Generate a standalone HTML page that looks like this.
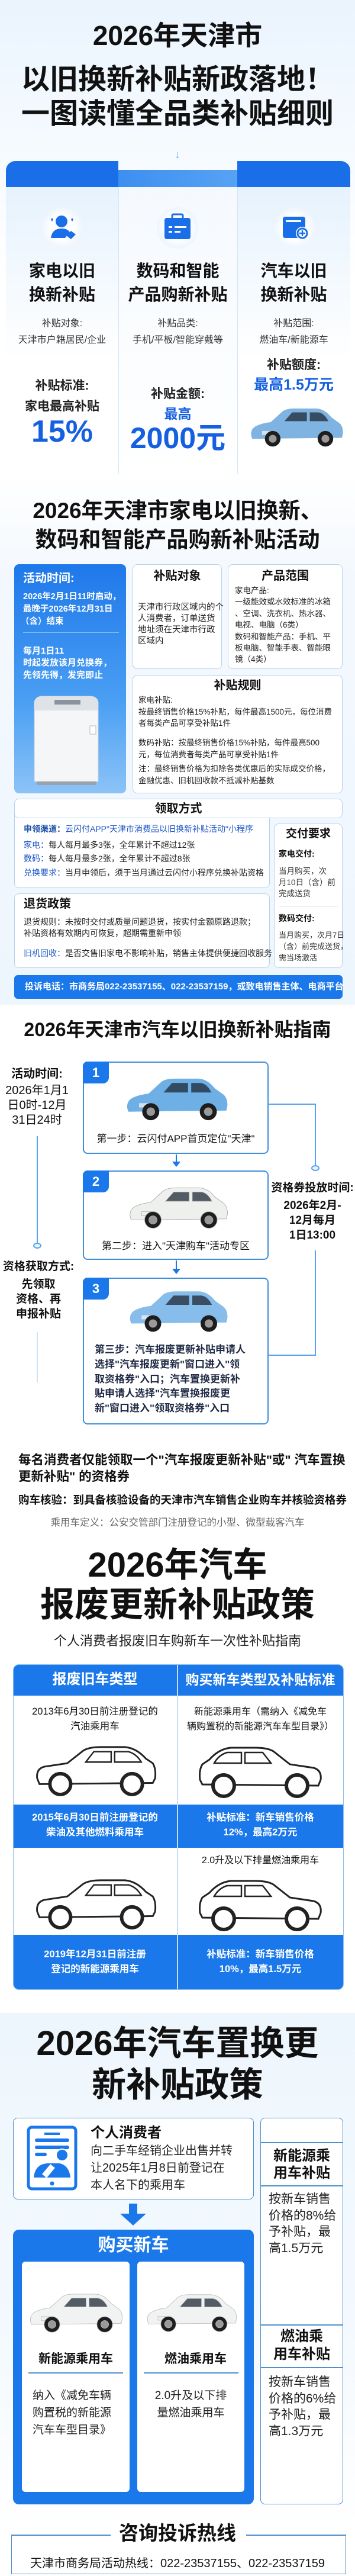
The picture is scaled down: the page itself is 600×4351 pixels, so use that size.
<!DOCTYPE html>
<html><head><meta charset="utf-8">
<style>
*{margin:0;padding:0;box-sizing:border-box}
body{width:600px;height:4351px;position:relative;overflow:hidden;background:#fff;font-family:"Liberation Sans","Noto Sans CJK SC",sans-serif;color:#111}
.a{position:absolute;white-space:nowrap}
.c{text-align:center}
.b{font-weight:bold}
.blue{color:#1560e0}
.box{position:absolute;border:1.5px solid #b9d3ec;border-radius:8px;background:#fff}
.bx2{position:absolute;border:2px solid #3f8fd8;border-radius:8px;background:#fff}
</style></head><body>
<svg width="0" height="0" style="position:absolute">
<defs>
<symbol id="car" viewBox="0 0 200 100">
<path d="M8 72 Q6 58 18 52 Q30 46 48 44 L72 22 Q80 16 96 16 L140 16 Q158 16 172 34 L186 44 Q196 50 196 66 L194 76 L10 78 Z"/>
<path d="M76 42 L92 24 L122 24 L122 42 Z M128 24 L146 24 Q158 26 166 42 L128 42 Z" fill="#1f2a36" opacity=".75"/>
<rect x="30" y="62" width="26" height="8" fill="#eee" opacity=".8"/>
<circle cx="52" cy="78" r="16" fill="#1d1d1d"/><circle cx="52" cy="78" r="8" fill="#999"/>
<circle cx="160" cy="78" r="16" fill="#1d1d1d"/><circle cx="160" cy="78" r="8" fill="#999"/>
</symbol>
<symbol id="ocar" viewBox="0 0 220 100">
<path d="M8 66 Q6 50 20 46 L60 40 L88 18 Q98 12 118 12 L160 12 Q180 14 196 32 L208 40 Q214 50 212 66 L208 74 L12 76 Z" fill="#fff" stroke="#222" stroke-width="3"/>
<path d="M92 38 L106 20 L136 20 L136 38 Z M142 20 L166 20 Q180 24 188 38 L142 38 Z" fill="#fff" stroke="#222" stroke-width="2.5"/>
<circle cx="48" cy="76" r="18" fill="#fff" stroke="#222" stroke-width="6"/>
<circle cx="172" cy="76" r="18" fill="#fff" stroke="#222" stroke-width="6"/>
</symbol>
</defs></svg>

<!-- SECTION 1 -->
<div class="a" style="left:0;top:0;width:600px;height:800px;background:linear-gradient(180deg,#eaf4fd 0%,#f5faff 30%,#fff 60%)"></div>
<div class="a c b" style="left:0;top:30px;width:600px;font-size:46px;line-height:60px">2026年天津市</div>
<div class="a c b" style="left:0;top:105px;width:600px;font-size:48px;line-height:60px">以旧换新补贴新政落地！</div>
<div class="a c b" style="left:0;top:163px;width:600px;font-size:48px;line-height:60px">一图读懂全品类补贴细则</div>
<div class="a c" style="left:290px;top:250px;width:20px;font-size:18px;color:#5aa2ee;line-height:22px">↓</div>

<div class="a" style="left:10px;top:316px;width:582px;height:484px;background:linear-gradient(180deg,#e6f2fd,#fff 60%)"></div>
<div class="a" style="left:200px;top:316px;width:201px;height:484px;background:linear-gradient(180deg,#f5f9fe,#fff)"></div>
<div class="a" style="left:200px;top:316px;width:1px;height:484px;background:#d3e5f7"></div>
<div class="a" style="left:401px;top:316px;width:1px;height:484px;background:#d3e5f7"></div>
<div class="a" style="left:10px;top:272px;width:190px;height:44px;background:#1a6fe8;border-radius:16px 0 0 0"></div>
<div class="a" style="left:200px;top:287px;width:201px;height:29px;background:linear-gradient(90deg,#3d8ff0,#56a2f4)"></div>
<div class="a" style="left:401px;top:272px;width:191px;height:44px;background:#1a6fe8;border-radius:0 16px 0 0"></div>

<!-- icons -->
<div class="a" style="left:70px;top:350px;width:70px;height:70px;border-radius:50%;background:radial-gradient(#fff 40%,#dcebfb)"></div>
<svg class="a" style="left:80px;top:358px" width="52" height="52" viewBox="0 0 52 52"><circle cx="24" cy="16" r="10" fill="#1a6fe8"/><path d="M6 44 Q8 28 24 28 Q34 28 38 34 L30 44 Z" fill="#1a6fe8"/><path d="M32 40 L40 32 L48 38 L40 46 Z" fill="#1a6fe8"/><path d="M6 13 l2 -3 l2 3 l-2 3z M40 13 l2 -3 l2 3 l-2 3z" fill="#1a6fe8"/></svg>
<div class="a" style="left:265px;top:350px;width:70px;height:70px;border-radius:50%;background:radial-gradient(#fff 40%,#dcebfb)"></div>
<svg class="a" style="left:275px;top:358px" width="50" height="50" viewBox="0 0 50 50"><rect x="3" y="10" width="44" height="36" rx="4" fill="#1a6fe8"/><rect x="16" y="4" width="18" height="8" rx="2" fill="none" stroke="#1a6fe8" stroke-width="3"/><rect x="10" y="24" width="6" height="3" fill="#fff"/><rect x="20" y="24" width="20" height="3" fill="#fff"/><rect x="10" y="32" width="6" height="3" fill="#fff"/><rect x="20" y="32" width="10" height="3" fill="#fff"/></svg>
<div class="a" style="left:463px;top:350px;width:70px;height:70px;border-radius:50%;background:radial-gradient(#fff 40%,#dcebfb)"></div>
<svg class="a" style="left:475px;top:358px" width="50" height="50" viewBox="0 0 50 50"><rect x="3" y="8" width="38" height="36" rx="4" fill="#1a6fe8"/><rect x="8" y="14" width="26" height="3" fill="#fff"/><circle cx="36" cy="36" r="11" fill="#fff"/><circle cx="36" cy="36" r="8" fill="none" stroke="#1a6fe8" stroke-width="3"/><path d="M36 31v10M31 36h10" stroke="#1a6fe8" stroke-width="2.5"/></svg>

<div class="a c b" style="left:10px;top:438px;width:190px;font-size:28px;line-height:40px">家电以旧</div>
<div class="a c b" style="left:10px;top:478px;width:190px;font-size:28px;line-height:40px">换新补贴</div>
<div class="a c b" style="left:200px;top:438px;width:201px;font-size:28px;line-height:40px">数码和智能</div>
<div class="a c b" style="left:200px;top:478px;width:201px;font-size:28px;line-height:40px">产品购新补贴</div>
<div class="a c b" style="left:401px;top:438px;width:191px;font-size:28px;line-height:40px">汽车以旧</div>
<div class="a c b" style="left:401px;top:478px;width:191px;font-size:28px;line-height:40px">换新补贴</div>

<div class="a c" style="left:10px;top:536px;width:190px;font-size:16px;line-height:22px;color:#333">补贴对象:</div>
<div class="a c" style="left:10px;top:564px;width:190px;font-size:16px;line-height:22px;color:#333">天津市户籍居民/企业</div>
<div class="a c" style="left:200px;top:536px;width:201px;font-size:16px;line-height:22px;color:#333">补贴品类:</div>
<div class="a c" style="left:200px;top:564px;width:201px;font-size:16px;line-height:22px;color:#333">手机/平板/智能穿戴等</div>
<div class="a c" style="left:401px;top:536px;width:191px;font-size:16px;line-height:22px;color:#333">补贴范围:</div>
<div class="a c" style="left:401px;top:564px;width:191px;font-size:16px;line-height:22px;color:#333">燃油车/新能源车</div>

<div class="a c b" style="left:10px;top:639px;width:190px;font-size:21px;line-height:26px;color:#222">补贴标准:</div>
<div class="a c b" style="left:10px;top:674px;width:190px;font-size:21px;line-height:26px;color:#222">家电最高补贴</div>
<div class="a c b blue" style="left:10px;top:700px;width:190px;font-size:52px;line-height:58px">15%</div>
<div class="a c b" style="left:200px;top:653px;width:201px;font-size:21px;line-height:26px;color:#222">补贴金额:</div>
<div class="a c b blue" style="left:200px;top:685px;width:201px;font-size:23px;line-height:28px">最高</div>
<div class="a c b blue" style="left:200px;top:712px;width:201px;font-size:50px;line-height:56px">2000元</div>
<div class="a c b" style="left:401px;top:604px;width:191px;font-size:21px;line-height:26px;color:#222">补贴额度:</div>
<div class="a c b blue" style="left:401px;top:635px;width:191px;font-size:25px;line-height:30px">最高1.5万元</div>
<svg class="a" style="left:418px;top:672px;color:#6fa9dc" width="165" height="92"><use href="#car" fill="#7fb3e2" width="165" height="92"/></svg>

<!-- SECTION 2 -->
<div class="a" style="left:0;top:800px;width:600px;height:897px;background:linear-gradient(180deg,#fff 0%,#f3f8fe 20%,#eef6fd 100%)"></div>
<div class="a c b" style="left:0;top:840px;width:600px;font-size:37px;line-height:46px">2026年天津市家电以旧换新、</div>
<div class="a c b" style="left:0;top:889px;width:600px;font-size:37px;line-height:46px">数码和智能产品购新补贴活动</div>

<div class="a" style="left:24px;top:953px;width:189px;height:387px;border-radius:8px;background:linear-gradient(180deg,#1f78ea,#4a9ff3 60%,#8cc3f7)"></div>
<div class="a b" style="left:39px;top:963px;font-size:20px;line-height:28px;color:#fff">活动时间:</div>
<div class="a b" style="left:39px;top:998px;font-size:14.5px;line-height:20px;color:#fff">2026年2月1日11时启动，</div>
<div class="a b" style="left:39px;top:1019px;font-size:14.5px;line-height:20px;color:#fff">最晚于2026年12月31日</div>
<div class="a b" style="left:35px;top:1040px;font-size:14.5px;line-height:20px;color:#fff">（含）结束</div>
<div class="a" style="left:39px;top:1068px;width:162px;height:1px;background:#8cc0f4"></div>
<div class="a b" style="left:39px;top:1090px;font-size:15px;line-height:20px;color:#fff">每月1日11</div>
<div class="a b" style="left:39px;top:1110px;font-size:15px;line-height:20px;color:#fff">时起发放该月兑换券，</div>
<div class="a b" style="left:39px;top:1131px;font-size:15px;line-height:20px;color:#fff">先领先得，发完即止</div>
<svg class="a" style="left:52px;top:1170px" width="120" height="160" viewBox="0 0 120 160"><path d="M6 16 Q8 6 20 6 L100 6 Q112 6 114 16 L114 150 L6 150 Z" fill="#f4f6f8" stroke="#c9ced4"/><path d="M6 16 Q8 6 20 6 L100 6 Q112 6 114 16 L114 30 L6 30 Z" fill="#dfe3e8"/><rect x="40" y="12" width="44" height="8" fill="#8a949e"/><rect x="100" y="56" width="10" height="14" fill="#fff" stroke="#bbb"/><rect x="10" y="150" width="100" height="6" fill="#9aa3ab"/></svg>

<div class="box" style="left:224px;top:953px;width:151px;height:177px"></div>
<div class="a c b" style="left:224px;top:959px;width:151px;font-size:20px;line-height:28px">补贴对象</div>
<div class="a" style="left:233px;top:1017px;font-size:14.5px;line-height:19px;color:#222">天津市行政区域内的个<br>人消费者，订单送货<br>地址须在天津市行政<br>区域内</div>

<div class="box" style="left:385px;top:953px;width:194px;height:177px"></div>
<div class="a c b" style="left:385px;top:959px;width:194px;font-size:20px;line-height:28px">产品范围</div>
<div class="a" style="left:397px;top:988px;font-size:13.5px;line-height:19.4px;color:#222">家电产品:<br>一级能效或水效标准的冰箱<br>、空调、洗衣机、热水器、<br>电视、电脑（6类）<br>数码和智能产品：手机、平<br>板电脑、智能手表、智能眼<br>镜（4类）</div>

<div class="box" style="left:224px;top:1140px;width:355px;height:200px"></div>
<div class="a c b" style="left:224px;top:1144px;width:355px;font-size:20px;line-height:28px">补贴规则</div>
<div class="a" style="left:234px;top:1173px;font-size:13.5px;line-height:19.5px;color:#222">家电补贴:<br>按最终销售价格15%补贴，每件最高1500元，每位消费<br>者每类产品可享受补贴1件</div>
<div class="a" style="left:234px;top:1245px;font-size:13.5px;line-height:19.5px;color:#222">数码补贴：按最终销售价格15%补贴，每件最高500<br>元，每位消费者每类产品可享受补贴1件</div>
<div class="a" style="left:234px;top:1289px;font-size:13.5px;line-height:19.5px;color:#222">注：最终销售价格为扣除各类优惠后的实际成交价格，<br>金融优惠、旧机回收款不抵减补贴基数</div>

<div class="box" style="left:24px;top:1349px;width:432px;height:151px"></div>
<div class="a" style="left:24px;top:1349px;width:555px;height:33px;border:1.5px solid #b9d3ec;border-radius:8px;background:#fff"></div>
<div class="a c b" style="left:24px;top:1352px;width:555px;font-size:20px;line-height:28px">领取方式</div>
<div class="a" style="left:40px;top:1390px;font-size:14px;line-height:20px;color:#1b55c8"><b style="color:#1b4fa8">申领渠道：</b>云闪付APP"天津市消费品以旧换新补贴活动"小程序</div>
<div class="a" style="left:40px;top:1417px;font-size:14px;line-height:20px;color:#222"><span style="color:#1b55c8">家电：</span>每人每月最多3张，全年累计不超过12张</div>
<div class="a" style="left:40px;top:1440px;font-size:14px;line-height:20px;color:#222"><span style="color:#1b55c8">数码：</span>每人每月最多2张，全年累计不超过8张</div>
<div class="a" style="left:40px;top:1464px;font-size:14px;line-height:20px;color:#222"><span style="color:#1b55c8">兑换要求：</span>当月申领后，须于当月通过云闪付小程序兑换补贴资格</div>

<div class="box" style="left:463px;top:1391px;width:116px;height:244px"></div>
<div class="a c b" style="left:463px;top:1396px;width:116px;font-size:19px;line-height:26px">交付要求</div>
<div class="a b" style="left:471px;top:1432px;font-size:14px;line-height:20px">家电交付:</div>
<div class="a" style="left:471px;top:1462px;font-size:13.5px;line-height:19px;color:#333">当月购买，次<br>月10日（含）前<br>完成送货</div>
<div class="a" style="left:471px;top:1530px;width:100px;height:1px;background:#cfdfee"></div>
<div class="a b" style="left:471px;top:1541px;font-size:14px;line-height:20px">数码交付:</div>
<div class="a" style="left:471px;top:1570px;font-size:13px;line-height:19px;color:#333">当月购买，次月7日<br>（含）前完成送货，<br>需当场激活</div>

<div class="box" style="left:24px;top:1509px;width:432px;height:126px"></div>
<div class="a b" style="left:40px;top:1513px;font-size:20px;line-height:28px">退货政策</div>
<div class="a" style="left:40px;top:1548px;font-size:14px;line-height:19px;color:#222">退货规则：未按时交付或质量问题退货，按实付金额原路退款；<br>补贴资格有效期内可恢复，超期需重新申领</div>
<div class="a" style="left:40px;top:1600px;font-size:14px;line-height:20px;color:#222"><span style="color:#1b55c8">旧机回收：</span>是否交售旧家电不影响补贴，销售主体提供便捷回收服务</div>

<div class="a" style="left:24px;top:1647px;width:555px;height:40px;border-radius:6px;background:#1a78ea"></div>
<div class="a b" style="left:42px;top:1655px;font-size:15px;line-height:24px;color:#fff">投诉电话：市商务局022-23537155、022-23537159，或致电销售主体、电商平台</div>

<!-- SECTION 3 -->
<div class="a c b" style="left:0;top:1719px;width:600px;font-size:32px;line-height:40px">2026年天津市汽车以旧换新补贴指南</div>

<div class="a c b" style="left:0;top:1801px;width:125px;font-size:20px;line-height:26px">活动时间:</div>
<div class="a c" style="left:0;top:1830px;width:125px;font-size:20px;line-height:25px">2026年1月1<br>日0时-12月<br>31日24时</div>
<div class="a" style="left:62px;top:1919px;width:2px;height:180px;background:#5aa2ee"></div>
<div class="a" style="left:56px;top:2099px;width:14px;height:10px;border:2px solid #5aa2ee;border-radius:50%;background:#e8f3fd"></div>
<div class="a c b" style="left:0;top:2127px;width:130px;font-size:19px;line-height:26px">资格获取方式:</div>
<div class="a c b" style="left:0;top:2157px;width:130px;font-size:19px;line-height:25px">先领取<br>资格、再<br>申报补贴</div>
<div class="a" style="left:62px;top:2250px;width:2px;height:85px;background:#cfe3f7"></div>

<div class="a" style="left:454px;top:1864px;width:80px;height:2px;background:#5aa2ee"></div>
<div class="a" style="left:532px;top:1864px;width:2px;height:105px;background:#5aa2ee"></div>
<div class="a" style="left:526px;top:1968px;width:14px;height:10px;border:2px solid #5aa2ee;border-radius:50%;background:#e8f3fd"></div>
<div class="a c b" style="left:456px;top:1994px;width:144px;font-size:19px;line-height:26px">资格券投放时间:</div>
<div class="a c b" style="left:456px;top:2024px;width:144px;font-size:19px;line-height:25px">2026年2月-<br>12月每月<br>1日13:00</div>
<div class="a" style="left:532px;top:2112px;width:2px;height:178px;background:#5aa2ee"></div>
<div class="a" style="left:454px;top:2288px;width:80px;height:2px;background:#5aa2ee"></div>

<div class="bx2" style="left:140px;top:1793px;width:314px;height:156px"></div>
<div class="a c b" style="left:140px;top:1793px;width:44px;height:37px;background:#1a78ea;border-radius:8px 0 10px 0;color:#fff;font-size:22px;line-height:37px">1</div>
<svg class="a" style="left:208px;top:1805px" width="180" height="95"><use href="#car" fill="#6eb0e6" width="180" height="95"/></svg>
<div class="a c" style="left:140px;top:1912px;width:314px;font-size:17px;line-height:24px">第一步：云闪付APP首页定位"天津"</div>
<div class="a" style="left:297px;top:1950px;width:2px;height:14px;background:#1a78ea"></div>
<div class="a" style="left:291px;top:1962px;border-left:7px solid transparent;border-right:7px solid transparent;border-top:9px solid #1a78ea"></div>

<div class="bx2" style="left:140px;top:1977px;width:314px;height:151px"></div>
<div class="a c b" style="left:140px;top:1977px;width:44px;height:37px;background:#1a78ea;border-radius:8px 0 10px 0;color:#fff;font-size:22px;line-height:37px">2</div>
<svg class="a" style="left:213px;top:1990px" width="175" height="92"><use href="#car" fill="#eef0ee" stroke="#aaa" width="175" height="92"/></svg>
<div class="a c" style="left:140px;top:2093px;width:314px;font-size:17px;line-height:24px">第二步：进入"天津购车"活动专区</div>
<div class="a" style="left:297px;top:2129px;width:2px;height:16px;background:#1a78ea"></div>
<div class="a" style="left:291px;top:2143px;border-left:7px solid transparent;border-right:7px solid transparent;border-top:9px solid #1a78ea"></div>

<div class="bx2" style="left:140px;top:2158px;width:314px;height:248px"></div>
<div class="a c b" style="left:140px;top:2158px;width:44px;height:37px;background:#1a78ea;border-radius:8px 0 10px 0;color:#fff;font-size:22px;line-height:37px">3</div>
<svg class="a" style="left:213px;top:2165px" width="175" height="92"><use href="#car" fill="#86bdea" width="175" height="92"/></svg>
<div class="a b" style="left:160px;top:2268px;font-size:17px;line-height:24.8px;color:#1f2a44">第三步：汽车报废更新补贴申请人<br>选择"汽车报废更新"窗口进入"领<br>取资格券"入口；汽车置换更新补<br>贴申请人选择"汽车置换报废更<br>新"窗口进入"领取资格券"入口</div>

<div class="a b" style="left:31px;top:2452px;font-size:21.5px;line-height:28px">每名消费者仅能领取一个"汽车报废更新补贴"或" 汽车置换</div>
<div class="a b" style="left:31px;top:2480px;font-size:21.5px;line-height:28px">更新补贴" 的资格券</div>
<div class="a b" style="left:31px;top:2521px;font-size:18.5px;line-height:26px">购车核验：到具备核验设备的天津市汽车销售企业购车并核验资格券</div>
<div class="a c" style="left:0;top:2560px;width:600px;font-size:16.5px;line-height:24px;color:#666">乘用车定义：公安交管部门注册登记的小型、微型载客汽车</div>

<!-- SECTION 4 -->
<div class="a c b" style="left:0;top:2610px;width:600px;font-size:58px;line-height:68px">2026年汽车</div>
<div class="a c b" style="left:0;top:2677px;width:600px;font-size:58px;line-height:68px">报废更新补贴政策</div>
<div class="a c" style="left:0;top:2758px;width:600px;font-size:22px;line-height:28px;color:#222">个人消费者报废旧车购新车一次性补贴指南</div>

<div class="a" style="left:22px;top:2811px;width:559px;height:550px;border:1.5px solid #8fbfea;border-radius:10px;background:#fff;overflow:hidden">
 <div class="a" style="left:0;top:0;width:559px;height:52px;background:#1a78ea"></div>
 <div class="a" style="left:0;top:236px;width:559px;height:73px;background:#1a78ea"></div>
 <div class="a" style="left:0;top:456px;width:559px;height:94px;background:#1a78ea"></div>
 <div class="a" style="left:276px;top:0;width:2px;height:550px;background:#c8def4"></div>
</div>
<div class="a c b" style="left:22px;top:2821px;width:277px;font-size:24px;line-height:32px;color:#fff">报废旧车类型</div>
<div class="a c b" style="left:299px;top:2821px;width:282px;font-size:23px;line-height:32px;color:#fff">购买新车类型及补贴标准</div>
<div class="a c" style="left:22px;top:2879px;width:277px;font-size:16.5px;line-height:25px">2013年6月30日前注册登记的<br>汽油乘用车</div>
<div class="a c" style="left:299px;top:2879px;width:282px;font-size:16px;line-height:25px">新能源乘用车（需纳入《减免车<br>辆购置税的新能源汽车车型目录》）</div>
<svg class="a" style="left:55px;top:2938px" width="215" height="100"><use href="#ocar" width="215" height="100"/></svg>
<svg class="a" style="left:330px;top:2940px" width="220" height="100"><use href="#ocar" width="220" height="100" transform="translate(220,0) scale(-1,1)"/></svg>
<div class="a c b" style="left:22px;top:3058px;width:277px;font-size:16.5px;line-height:25px;color:#fff">2015年6月30日前注册登记的<br>柴油及其他燃料乘用车</div>
<div class="a c b" style="left:299px;top:3058px;width:282px;font-size:16.5px;line-height:25px;color:#fff">补贴标准：新车销售价格<br>12%，最高2万元</div>
<div class="a c" style="left:299px;top:3131px;width:282px;font-size:16px;line-height:24px">2.0升及以下排量燃油乘用车</div>
<svg class="a" style="left:55px;top:3163px" width="215" height="100"><use href="#ocar" width="215" height="100"/></svg>
<svg class="a" style="left:330px;top:3165px" width="220" height="100"><use href="#ocar" width="220" height="100" transform="translate(220,0) scale(-1,1)"/></svg>
<div class="a c b" style="left:22px;top:3289px;width:277px;font-size:16.5px;line-height:25px;color:#fff">2019年12月31日前注册<br>登记的新能源乘用车</div>
<div class="a c b" style="left:299px;top:3289px;width:282px;font-size:16.5px;line-height:25px;color:#fff">补贴标准：新车销售价格<br>10%，最高1.5万元</div>

<!-- SECTION 5 -->
<div class="a" style="left:0;top:3400px;width:600px;height:880px;background:linear-gradient(180deg,#eef6fd,#f3f9fe 60%,#fff)"></div>
<div class="a c b" style="left:0;top:3418px;width:600px;font-size:58px;line-height:68px">2026年汽车置换更</div>
<div class="a c b" style="left:0;top:3488px;width:600px;font-size:58px;line-height:68px">新补贴政策</div>

<div class="a" style="left:22px;top:3577px;width:407px;height:138px;border:1.5px solid #4d8fcf;border-radius:8px;background:#fff"></div>
<svg class="a" style="left:45px;top:3590px" width="86" height="110" viewBox="0 0 86 110"><rect x="3" y="3" width="80" height="104" rx="6" fill="none" stroke="#1a78ea" stroke-width="5"/><rect x="30" y="12" width="26" height="4" fill="#1a78ea"/><rect x="14" y="22" width="58" height="6" rx="3" fill="#1a78ea"/><rect x="14" y="34" width="58" height="6" rx="3" fill="#1a78ea"/><rect x="14" y="46" width="20" height="6" rx="3" fill="#1a78ea"/><path d="M12 88 Q14 66 34 64 L56 64 Q72 68 74 88 Z" fill="#1a78ea"/><circle cx="60" cy="50" r="10" fill="#1a78ea" stroke="#fff" stroke-width="2"/><rect x="32" y="66" width="10" height="22" fill="#fff" transform="rotate(40 37 77)"/><circle cx="43" cy="98" r="3.5" fill="#1a78ea"/></svg>
<div class="a b" style="left:153px;top:3588px;font-size:24px;line-height:30px">个人消费者</div>
<div class="a" style="left:153px;top:3619px;font-size:20px;line-height:29px;color:#222">向二手车经销企业出售并转<br>让2025年1月8日前登记在<br>本人名下的乘用车</div>

<div class="a" style="left:218px;top:3722px;width:14px;height:18px;background:#1a78ea"></div>
<div class="a" style="left:203px;top:3739px;border-left:22px solid transparent;border-right:22px solid transparent;border-top:20px solid #1a78ea"></div>

<div class="a" style="left:22px;top:3766px;width:407px;height:464px;border-radius:10px;background:#1a78ea"></div>
<div class="a c b" style="left:22px;top:3775px;width:407px;font-size:30px;line-height:36px;color:#fff">购买新车</div>
<div class="a" style="left:37px;top:3820px;width:182px;height:389px;border-radius:6px;background:#fff"></div>
<div class="a" style="left:232px;top:3820px;width:181px;height:389px;border-radius:6px;background:#fff"></div>
<svg class="a" style="left:45px;top:3858px" width="165" height="90"><use href="#car" fill="#f1f2f2" stroke="#bbb" width="165" height="90"/></svg>
<svg class="a" style="left:243px;top:3858px" width="160" height="90"><use href="#car" fill="#f1f2f2" stroke="#bbb" width="160" height="90"/></svg>
<div class="a c b" style="left:37px;top:3970px;width:182px;font-size:21px;line-height:30px">新能源乘用车</div>
<div class="a c b" style="left:240px;top:3970px;width:181px;font-size:21px;line-height:30px">燃油乘用车</div>
<div class="a" style="left:48px;top:4007px;width:160px;height:2px;background:#4d8fcf"></div>
<div class="a" style="left:243px;top:4007px;width:160px;height:2px;background:#4d8fcf"></div>
<div class="a" style="left:55px;top:4032px;font-size:19px;line-height:29px;color:#222">纳入《减免车辆<br>购置税的新能源<br>汽车车型目录》</div>
<div class="a c" style="left:232px;top:4032px;width:181px;font-size:19px;line-height:29px;color:#222">2.0升及以下排<br>量燃油乘用车</div>

<div class="a" style="left:440px;top:3577px;width:140px;height:653px;border:1.5px solid #4d8fcf;border-radius:8px;background:#fff"></div>
<div class="a" style="left:440px;top:3618px;width:140px;height:1.5px;background:#4d8fcf"></div>
<div class="a c b" style="left:440px;top:3627px;width:140px;font-size:24px;line-height:29px">新能源乘<br>用车补贴</div>
<div class="a" style="left:440px;top:3691px;width:140px;height:1.5px;background:#4d8fcf"></div>
<div class="a" style="left:454px;top:3701px;font-size:21px;line-height:27.5px;color:#222">按新车销售<br>价格的8%给<br>予补贴，最<br>高1.5万元</div>
<div class="a" style="left:440px;top:3926px;width:140px;height:1.5px;background:#4d8fcf"></div>
<div class="a c b" style="left:440px;top:3932px;width:140px;font-size:24px;line-height:30px">燃油乘<br>用车补贴</div>
<div class="a" style="left:440px;top:3998px;width:140px;height:1.5px;background:#4d8fcf"></div>
<div class="a" style="left:454px;top:4010px;font-size:21px;line-height:27.5px;color:#222">按新车销售<br>价格的6%给<br>予补贴，最<br>高1.3万元</div>

<!-- HOTLINE -->
<div class="a" style="left:19px;top:4281px;width:566px;height:67px;border:1.5px solid #4d8fcf;border-top:none"></div>
<div class="a" style="left:19px;top:4281px;width:168px;height:1.5px;background:#4d8fcf"></div>
<div class="a" style="left:416px;top:4281px;width:169px;height:1.5px;background:#4d8fcf"></div>
<div class="a c b" style="left:0;top:4259px;width:600px;font-size:33px;line-height:40px">咨询投诉热线</div>
<div class="a c" style="left:0;top:4316px;width:600px;font-size:20px;line-height:28px">天津市商务局活动热线：022-23537155、022-23537159</div>
</body></html>
